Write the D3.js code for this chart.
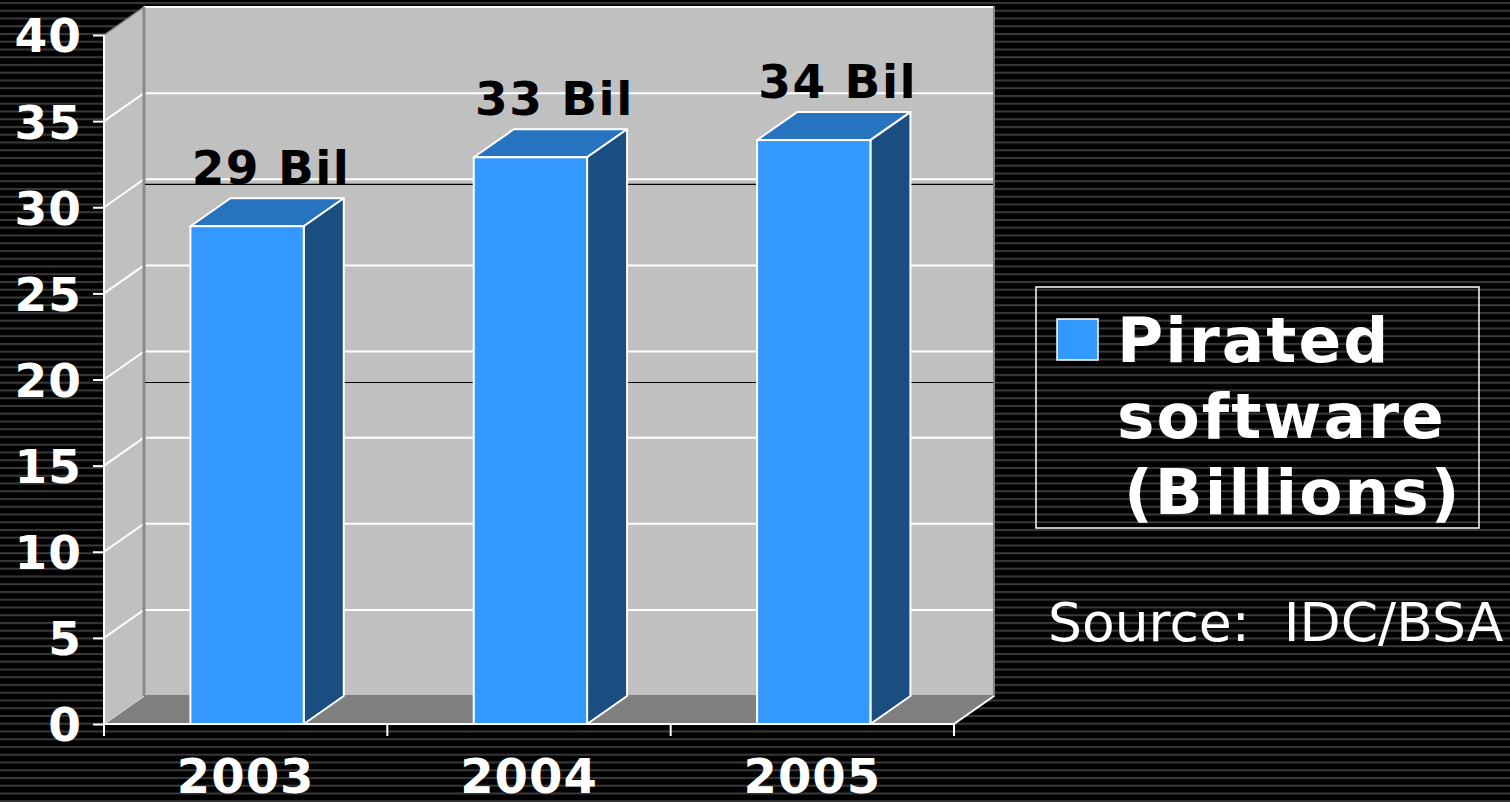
<!DOCTYPE html>
<html>
<head>
<meta charset="utf-8">
<script src="https://cdn.jsdelivr.net/npm/d3@7"></script>
<style>
  html, body { margin: 0; padding: 0; background: #000; overflow: hidden; }
  text { font-family: "DejaVu Sans", Verdana, sans-serif; }
</style>
</head>
<body>
<svg id="chart"></svg>
<script>
// data
const years = ["2003", "2004", "2005"];
const piracy = [28.9, 32.9, 33.9];
const valueLabels = ["29 Bil", "33 Bil", "34 Bil"];
const yTicks = [0, 5, 10, 15, 20, 25, 30, 35, 40];
const legendLines = ["Pirated", "software", "(Billions)"];
const sourceText = "Source:  IDC/BSA";
// two stray dark rules on the back wall (back-wall value units)
const darkRules = [29.7, 18.2];

const W = 1510, H = 802;
const dx = 40, dy = -28; // 3d depth offset

const svg = d3.select("#chart").attr("width", W).attr("height", H);

// striped background
const defs = svg.append("defs");
const pat = defs.append("pattern")
	.attr("id", "stripes")
	.attr("patternUnits", "userSpaceOnUse")
	.attr("width", 8).attr("height", 7.75);
pat.append("rect").attr("width", 8).attr("height", 7.75).attr("fill", "#000");
pat.append("rect").attr("y", 2).attr("width", 8).attr("height", 2).attr("fill", "#3a3a3a");
svg.append("rect").attr("width", W).attr("height", H).attr("fill", "url(#stripes)");

const x = d3.scaleBand().domain(years).range([104, 954]);
const y = d3.scaleLinear().domain([0, 40]).range([724, 35]);

const xL = x.range()[0], xR = x.range()[1];
const poly = pts => pts.map(p => p.join(",")).join(" ");

// side wall
svg.append("polygon")
	.attr("points", poly([[xL, y(40)], [xL + dx, y(40) + dy], [xL + dx, y(0) + dy], [xL, y(0)]]))
	.attr("fill", "#c0c0c0")
	.attr("stroke", "#808080").attr("stroke-width", 1.5);

// back wall
svg.append("polygon")
	.attr("points", poly([[xL + dx, y(40) + dy], [xR + dx, y(40) + dy], [xR + dx, y(0) + dy], [xL + dx, y(0) + dy]]))
	.attr("fill", "#c0c0c0")
	.attr("stroke", "#808080").attr("stroke-width", 2);

// floor
svg.append("polygon")
	.attr("points", poly([[xL, y(0)], [xL + dx, y(0) + dy], [xR + dx, y(0) + dy], [xR, y(0)]]))
	.attr("fill", "#808080");
svg.append("line")
	.attr("x1", xR).attr("y1", y(0)).attr("x2", xR + dx).attr("y2", y(0) + dy)
	.attr("stroke", "#fff").attr("stroke-width", 2);
svg.append("line")
	.attr("x1", xL).attr("y1", y(0)).attr("x2", xL + dx).attr("y2", y(0) + dy)
	.attr("stroke", "#d8d8d8").attr("stroke-width", 1.5);

// gridlines
const grid = yTicks.filter(t => t > 0);
svg.selectAll(".grid-back")
	.data(grid)
	.enter()
	.append("line")
	.attr("x1", xL + dx).attr("x2", xR + dx - 1)
	.attr("y1", d => y(d) + dy).attr("y2", d => y(d) + dy)
	.attr("stroke", "#fff").attr("stroke-width", 2);
svg.selectAll(".grid-side")
	.data(grid.filter(t => t < 40))
	.enter()
	.append("line")
	.attr("x1", xL).attr("x2", xL + dx)
	.attr("y1", d => y(d)).attr("y2", d => y(d) + dy)
	.attr("stroke", "#fff").attr("stroke-width", 2);
svg.append("line")
	.attr("x1", xL + dx).attr("x2", xL + dx)
	.attr("y1", y(40) + dy).attr("y2", y(0) + dy)
	.attr("stroke", "#8a8a8a").attr("stroke-width", 3);

svg.selectAll(".dark-rule")
	.data(darkRules)
	.enter()
	.append("line")
	.attr("x1", xL + dx + 1).attr("x2", xR + dx - 1)
	.attr("y1", d => y(d) + dy).attr("y2", d => y(d) + dy)
	.attr("stroke", "#000").attr("stroke-width", 1.2);

// bars
const bw = x.bandwidth() * 0.4;
const bars = years.map((yr, i) => ({ year: yr, value: piracy[i], label: valueLabels[i] }));
const g = svg.selectAll(".bar").data(bars).enter().append("g").attr("class", "bar");
const bx = d => x(d.year) + x.bandwidth() * 0.305;

g.append("polygon") // top
	.attr("points", d => poly([[bx(d), y(d.value)], [bx(d) + dx, y(d.value) + dy], [bx(d) + bw + dx, y(d.value) + dy], [bx(d) + bw, y(d.value)]]))
	.attr("fill", "#2673c0").attr("stroke", "#fff").attr("stroke-width", 2).attr("stroke-linejoin", "round");
g.append("polygon") // side
	.attr("points", d => poly([[bx(d) + bw, y(d.value)], [bx(d) + bw + dx, y(d.value) + dy], [bx(d) + bw + dx, y(0) + dy], [bx(d) + bw, y(0)]]))
	.attr("fill", "#1a4d80").attr("stroke", "#fff").attr("stroke-width", 2).attr("stroke-linejoin", "round");
g.append("rect") // front
	.attr("x", bx).attr("y", d => y(d.value))
	.attr("width", bw).attr("height", d => y(0) - y(d.value))
	.attr("fill", "#3399ff").attr("stroke", "#fff").attr("stroke-width", 2);

g.append("text")
	.attr("x", d => bx(d) + bw / 2 + dx / 2 + 4)
	.attr("y", d => y(d.value) + dy - 14)
	.attr("text-anchor", "middle")
	.style("font-size", "47px").style("font-weight", "bold")
	.style("letter-spacing", "1.5px")
	.attr("fill", "#000")
	.text(d => d.label);

// axes
const yAxis = svg.append("g")
	.attr("transform", `translate(${xL},0)`)
	.call(d3.axisLeft(y).tickValues(yTicks).tickSize(11).tickPadding(11));
yAxis.select(".domain").attr("stroke", "#fff").attr("stroke-width", 2).attr("d", `M0,${y(40)}V${y(0)}`);
yAxis.selectAll(".tick line").attr("stroke", "#fff").attr("stroke-width", 2);
yAxis.selectAll(".tick text")
	.attr("fill", "#fff")
	.attr("dy", "0.36em")
	.style("font-size", "47px").style("font-weight", "bold")
	.style("letter-spacing", "1px")
	.style("font-family", "'DejaVu Sans', Verdana, sans-serif");

const xAxis = svg.append("g")
	.attr("transform", `translate(0,${y(0)})`)
	.call(d3.axisBottom(x).tickSize(0).tickPadding(0));
xAxis.select(".domain").attr("stroke", "#fff").attr("stroke-width", 2).attr("d", `M${xL},0H${xR}`);
xAxis.selectAll(".tick text")
	.attr("fill", "#fff")
	.attr("y", 69).attr("dy", 0)
	.style("font-size", "48px").style("font-weight", "bold")
	.style("letter-spacing", "1px")
	.style("font-family", "'DejaVu Sans', Verdana, sans-serif");
xAxis.selectAll(".sep")
	.data(years.map(d => x(d)).concat([xR]))
	.enter()
	.append("line")
	.attr("x1", d => d).attr("x2", d => d)
	.attr("y1", 0).attr("y2", 12)
	.attr("stroke", "#fff").attr("stroke-width", 2);

// legend
const legend = svg.append("g");
legend.append("rect")
	.attr("x", 1036).attr("y", 287).attr("width", 443).attr("height", 241)
	.attr("fill", "none").attr("stroke", "#fff").attr("stroke-width", 1.5);
legend.append("rect")
	.attr("x", 1057).attr("y", 319).attr("width", 41).attr("height", 41)
	.attr("fill", "#3399ff").attr("stroke", "#fff").attr("stroke-width", 1.5);
legend.selectAll(".lg")
	.data(legendLines)
	.enter()
	.append("text")
	.attr("x", (d, i) => i === 2 ? 1124 : 1117)
	.attr("y", (d, i) => 362 + i * 76)
	.attr("fill", "#fff")
	.style("font-size", "63px").style("font-weight", "bold")
	.style("letter-spacing", "2px")
	.text(d => d);

svg.append("text")
	.attr("x", 1048).attr("y", 641)
	.attr("fill", "#fff")
	.style("font-size", "53.5px")
	.style("white-space", "pre")
	.text(sourceText);
</script>
</body>
</html>
